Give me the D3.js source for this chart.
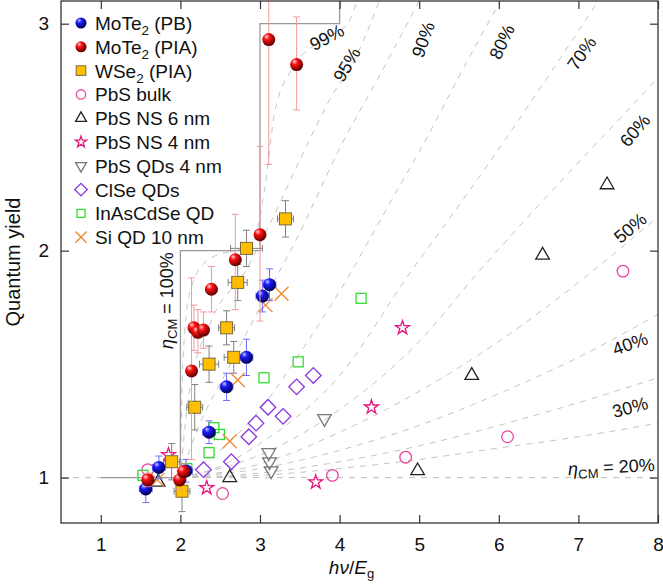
<!DOCTYPE html>
<html>
<head>
<meta charset="utf-8">
<script src="https://cdn.jsdelivr.net/npm/d3@7"></script>
<style>
body { margin: 0; background: #fff; }
text { font-family: "Liberation Sans", Arial, Helvetica, sans-serif; fill: #111; }
</style>
</head>
<body>
<script>
// data: [x, y, xerr, yerr] or [x, y, xerr, [ylo, yhi]]
var moTe2PB = [[1.565, 0.95, 0.08, 0.06], [1.73, 1.045, 0.08, 0.05], [2.07, 1.03, 0.08, 0.05], [2.36, 1.20, 0.08, 0.05],
    [2.58, 1.40, 0.08, 0.06], [2.83, 1.53, 0.08, 0.08], [3.03, 1.80, 0.08, 0.07], [3.12, 1.85, 0.08, 0.07]];
var moTe2PIA = [[1.59, 0.99, 0.05, [0.96, 1.02]], [1.99, 0.99, 0.05, [0.95, 1.03]], [2.04, 1.026, 0.05, [0.99, 1.06]],
    [2.14, 1.47, 0.05, [1.08, 1.88]], [2.17, 1.66, 0.05, [1.56, 1.76]], [2.22, 1.64, 0.05, [1.55, 1.74]], [2.29, 1.65, 0.05, [1.57, 1.73]],
    [2.39, 1.83, 0.05, [1.73, 1.93]], [2.69, 1.96, 0.05, [1.74, 2.16]], [3.0, 2.07, 0.05, [1.69, 2.46]],
    [3.11, 2.93, 0.05, [2.38, 3.2]], [3.46, 2.82, 0.05, [2.62, 3.03]]];
var wse2PIA = [[1.89, 1.07, 0.1, 0.08], [2.02, 0.94, 0.1, 0.09], [2.18, 1.31, 0.1, 0.1], [2.36, 1.50, 0.12, 0.08],
    [2.58, 1.66, 0.1, 0.075], [2.67, 1.53, 0.12, 0.07], [2.72, 1.86, 0.12, 0.08], [2.83, 2.01, 0.2, 0.08], [3.32, 2.14, 0.1, 0.08]];
var pbsBulk = [[1.59, 1.035], [2.53, 0.93], [3.91, 1.01], [4.83, 1.09], [6.11, 1.18], [7.56, 1.91]];
var pbsNS6 = [[1.72, 0.98], [2.62, 1.0], [4.98, 1.03], [5.66, 1.45], [6.55, 1.98], [7.36, 2.29]];
var pbsNS4 = [[1.85, 1.10], [2.33, 0.955], [3.70, 0.98], [4.40, 1.31], [4.79, 1.66]];
var pbsQD4 = [[3.11, 1.11], [3.12, 1.07], [3.14, 1.03], [3.81, 1.26]];
var clseQD = [[2.29, 1.035], [2.64, 1.07], [2.86, 1.18], [2.95, 1.24], [3.10, 1.31], [3.29, 1.27], [3.46, 1.40], [3.67, 1.45]];
var inasQD = [[1.53, 1.01], [2.08, 1.04], [2.36, 1.11], [2.42, 1.22], [2.49, 1.19], [3.05, 1.44], [3.48, 1.51], [4.27, 1.79]];
var siQD = [[1.71, 0.99], [2.62, 1.16], [2.72, 1.43], [3.07, 1.76], [3.27, 1.81]];

// eta_CM model curves
var etaValues = [20, 30, 40, 50, 60, 70, 80, 90, 95, 99];
var etaCurves = [
    [[2, 1], [3, 1.01], [4, 1.04], [5, 1.08], [6, 1.13], [7, 1.18], [8, 1.24]],
    [[2, 1], [3, 1.02], [4, 1.07], [5, 1.14], [6, 1.23], [7, 1.33], [8, 1.44]],
    [[2, 1], [3, 1.04], [4, 1.12], [5, 1.23], [6, 1.37], [7, 1.53], [8, 1.72]],
    [[2, 1], [3, 1.06], [4, 1.2], [5, 1.38], [6, 1.6], [7, 1.86], [8, 2.15]],
    [[2, 1], [3, 1.1], [4, 1.3], [5, 1.6], [5.73, 1.9], [6.5, 2.2], [7.3, 2.5], [8, 2.76]],
    [[2, 1], [2.5, 1.05], [3, 1.15], [4, 1.45], [4.88, 1.9], [5.5, 2.2], [6.2, 2.55], [6.7, 2.81], [7.25, 3.1]],
    [[2, 1], [2.5, 1.12], [3, 1.3], [3.6, 1.6], [4.1, 1.88], [4.6, 2.19], [5.1, 2.5], [5.55, 2.8], [6.02, 3.1]],
    [[2, 1], [2.2, 1.2], [2.6, 1.48], [3, 1.75], [3.5, 2.08], [4, 2.45], [4.5, 2.77], [5, 3.1]],
    [[2, 1], [2.1, 1.35], [2.4, 1.7], [2.8, 1.9], [3.1, 2.1], [3.5, 2.4], [3.9, 2.68], [4.2, 2.85], [4.5, 3.1]],
    [[2, 1], [2.03, 1.5], [2.12, 1.82], [2.35, 1.96], [2.9, 2.03], [3.07, 2.3], [3.18, 2.6], [3.4, 2.8], [3.8, 2.93], [4.1, 3.0], [4.22, 3.1]]
];
var staircase = [[1, 1], [2, 1], [2, 2], [3, 2], [3, 3], [4, 3], [4, 3.1]];

var xTicks = [1, 2, 3, 4, 5, 6, 7, 8];
var yTicks = [1, 2, 3];
var legendNames = ["MoTe2 (PB)", "MoTe2 (PIA)", "WSe2 (PIA)", "PbS bulk", "PbS NS 6 nm", "PbS NS 4 nm",
    "PbS QDs 4 nm", "ClSe QDs", "InAsCdSe QD", "Si QD 10 nm"];
var legendTypes = ["blue", "red", "sq", "circle", "tri", "star", "tridown", "diamond", "green", "cross"];

// label spots for the eta curves: [x, y, angle]
var labelPos = [[8.0, 1.03, -3], [7.65, 1.31, -15], [7.65, 1.59, -20], [7.65, 2.10, -40], [7.71, 2.53, -50],
    [7.04, 2.87, -55], [6.04, 2.92, -65], [5.05, 2.93, -70], [4.09, 2.82, -60], [3.84, 2.94, -28]];

var margin = { top: 1, right: 5, bottom: 63, left: 61 },
    width = 663,
    height = 586;

var x = d3.scaleLinear().domain([0.5, 8]).range([margin.left, width - margin.right]);
var y = d3.scaleLinear().domain([0.8, 3.1]).range([height - margin.bottom, margin.top]);

var svg = d3.select("body").append("svg")
    .attr("width", width)
    .attr("height", height);

var defs = svg.append("defs");
defs.append("clipPath").attr("id", "clip").append("rect")
    .attr("x", x(0.5)).attr("y", y(3.1))
    .attr("width", x(8) - x(0.5)).attr("height", y(0.8) - y(3.1));

// gradient for the spheres
function sphere(id, light, mid, dark) {
    var g = defs.append("radialGradient").attr("id", id)
        .attr("cx", "40%").attr("cy", "35%").attr("r", "65%")
        .attr("fx", "32%").attr("fy", "26%");
    g.append("stop").attr("offset", "0%").attr("stop-color", light);
    g.append("stop").attr("offset", "35%").attr("stop-color", mid);
    g.append("stop").attr("offset", "100%").attr("stop-color", dark);
}
sphere("gBlue", "#c8c8ff", "#1a1aff", "#00004a");
sphere("gRed", "#ffd8d8", "#ff1010", "#5a0000");

var plot = svg.append("g").attr("clip-path", "url(#clip)");

// model curves
var line = d3.line()
    .x(function (d) { return x(d[0]); })
    .y(function (d) { return y(d[1]); });

plot.append("path")
    .attr("d", line([[0.5, 1], [8, 1]]))
    .attr("fill", "none").attr("stroke", "#bdbdbd").attr("stroke-width", 1)
    .attr("stroke-dasharray", "6,6");

plot.selectAll(".eta")
    .data(etaCurves)
    .enter().append("path")
    .attr("class", "eta")
    .attr("d", function (d) { return line.curve(d3.curveMonotoneX)(d); })
    .attr("fill", "none")
    .attr("stroke", "#c4c4c4")
    .attr("stroke-width", 1)
    .attr("stroke-dasharray", "6,6");

line.curve(d3.curveLinear);
plot.append("path")
    .attr("d", line(staircase))
    .attr("fill", "none").attr("stroke", "#9a9a9a").attr("stroke-width", 1.3);

// error bars
function errorBars(data, color) {
    var g = plot.append("g").attr("stroke", color).attr("stroke-width", 1).attr("fill", "none");
    data.forEach(function (d) {
        var lo = Array.isArray(d[3]) ? d[3][0] : d[1] - d[3];
        var hi = Array.isArray(d[3]) ? d[3][1] : d[1] + d[3];
        var cx = x(d[0]), cy = y(d[1]);
        g.append("line").attr("x1", cx).attr("x2", cx).attr("y1", y(lo)).attr("y2", y(hi));
        g.append("line").attr("x1", cx - 3.5).attr("x2", cx + 3.5).attr("y1", y(lo)).attr("y2", y(lo));
        g.append("line").attr("x1", cx - 3.5).attr("x2", cx + 3.5).attr("y1", y(hi)).attr("y2", y(hi));
        g.append("line").attr("x1", x(d[0] - d[2])).attr("x2", x(d[0] + d[2])).attr("y1", cy).attr("y2", cy);
        g.append("line").attr("x1", x(d[0] - d[2])).attr("x2", x(d[0] - d[2])).attr("y1", cy - 3.5).attr("y2", cy + 3.5);
        g.append("line").attr("x1", x(d[0] + d[2])).attr("x2", x(d[0] + d[2])).attr("y1", cy - 3.5).attr("y2", cy + 3.5);
    });
}

// marker shapes
function marker(g, type, s) {
    s = s || 1;
    if (type === "blue" || type === "red") {
        g.append("circle").attr("r", 6.5 * s)
            .attr("fill", type === "blue" ? "url(#gBlue)" : "url(#gRed)");
    } else if (type === "sq") {
        g.append("rect").attr("x", -6 * s).attr("y", -6 * s).attr("width", 12 * s).attr("height", 12 * s)
            .attr("fill", "#ffbf00").attr("stroke", "#7a6a3a").attr("stroke-width", 1);
    } else if (type === "circle") {
        g.append("circle").attr("r", 5.8 * s).attr("fill", "none").attr("stroke", "#e8479b").attr("stroke-width", 1.3);
    } else if (type === "tri") {
        g.append("path").attr("d", d3.symbol().type(d3.symbolTriangle).size(80 * s * s)())
            .attr("fill", "none").attr("stroke", "#222").attr("stroke-width", 1.3);
    } else if (type === "tridown") {
        g.append("path").attr("d", d3.symbol().type(d3.symbolTriangle).size(80 * s * s)())
            .attr("transform", "rotate(180)")
            .attr("fill", "none").attr("stroke", "#777").attr("stroke-width", 1.3);
    } else if (type === "star") {
        g.append("path").attr("d", d3.symbol().type(d3.symbolStar).size(60 * s * s)())
            .attr("fill", "none").attr("stroke", "#e6157f").attr("stroke-width", 1.3);
    } else if (type === "diamond") {
        g.append("rect").attr("x", -5.5 * s).attr("y", -5.5 * s).attr("width", 11 * s).attr("height", 11 * s)
            .attr("transform", "rotate(45)")
            .attr("fill", "none").attr("stroke", "#8a35e0").attr("stroke-width", 1.3);
    } else if (type === "green") {
        g.append("rect").attr("x", -5 * s).attr("y", -5 * s).attr("width", 10 * s).attr("height", 10 * s)
            .attr("fill", "none").attr("stroke", "#33dd33").attr("stroke-width", 1.3);
    } else if (type === "cross") {
        var h = 7 * s;
        g.append("path").attr("d", "M" + -h + "," + -h + "L" + h + "," + h + "M" + -h + "," + h + "L" + h + "," + -h)
            .attr("stroke", "#f08a30").attr("stroke-width", 1.4);
    }
}

function points(data, type) {
    plot.append("g").selectAll("g")
        .data(data)
        .enter().append("g")
        .attr("transform", function (d) { return "translate(" + x(d[0]) + "," + y(d[1]) + ")"; })
        .each(function () { marker(d3.select(this), type); });
}

points(pbsBulk, "circle");
points(pbsNS6, "tri");
points(pbsNS4, "star");
points(pbsQD4, "tridown");
points(clseQD, "diamond");
points(inasQD, "green");
points(siQD, "cross");
errorBars(wse2PIA, "#808080");
points(wse2PIA, "sq");
errorBars(moTe2PB, "#6d6dff");
points(moTe2PB, "blue");
errorBars(moTe2PIA, "#f49a9a");
points(moTe2PIA, "red");

// eta labels
svg.selectAll(".etaLabel")
    .data(etaValues)
    .enter().append("text")
    .attr("class", "etaLabel")
    .attr("font-size", 18)
    .attr("text-anchor", function (d, i) { return i === 0 ? "end" : "middle"; })
    .attr("dy", function (d, i) { return i === 0 ? "0" : "0.35em"; })
    .attr("transform", function (d, i) {
        var p = labelPos[i];
        var px = i === 0 ? x(p[0]) - 3 : x(p[0]);
        return "translate(" + px + "," + y(p[1]) + ") rotate(" + p[2] + ")";
    })
    .each(function (d, i) {
        var t = d3.select(this);
        if (i === 0) {
            t.append("tspan").attr("font-style", "italic").text("η");
            t.append("tspan").attr("font-size", 13).attr("dy", 4).text("CM");
            t.append("tspan").attr("dy", -4).text(" = " + d + "%");
        } else {
            t.text(d + "%");
        }
    });

var lab100 = svg.append("text")
    .attr("font-size", 18)
    .attr("text-anchor", "middle")
    .attr("transform", "translate(" + (x(2) - 7) + "," + y(1.78) + ") rotate(-90)");
lab100.append("tspan").attr("font-style", "italic").text("η");
lab100.append("tspan").attr("font-size", 13).attr("dy", 4).text("CM");
lab100.append("tspan").attr("dy", -4).text(" = 100%");

// axes with inward ticks
var axisG = svg.append("g");
axisG.append("g")
    .attr("transform", "translate(0," + y(0.8) + ")")
    .call(d3.axisBottom(x).tickValues(xTicks).tickSizeInner(-8).tickSizeOuter(0).tickPadding(15).tickFormat(d3.format("d")));
axisG.append("g")
    .attr("transform", "translate(0," + y(3.1) + ")")
    .call(d3.axisTop(x).tickValues(xTicks).tickSizeInner(-8).tickSizeOuter(0).tickFormat(""));
axisG.append("g")
    .attr("transform", "translate(" + x(0.5) + ",0)")
    .call(d3.axisLeft(y).tickValues(yTicks).tickSizeInner(-8).tickSizeOuter(0).tickPadding(12).tickFormat(d3.format("d")));
axisG.append("g")
    .attr("transform", "translate(" + x(8) + ",0)")
    .call(d3.axisRight(y).tickValues(yTicks).tickSizeInner(-8).tickSizeOuter(0).tickFormat(""));
axisG.selectAll(".domain").remove();
axisG.selectAll(".tick line").attr("stroke", "#333").attr("stroke-width", 1.2);
axisG.selectAll(".tick text").attr("font-size", 19).attr("fill", "#111")
    .attr("font-family", "'Liberation Sans', Arial, sans-serif");

svg.append("rect")
    .attr("x", x(0.5)).attr("y", y(3.1))
    .attr("width", x(8) - x(0.5)).attr("height", y(0.8) - y(3.1))
    .attr("fill", "none").attr("stroke", "#333").attr("stroke-width", 1.3);

// axis titles
var xt = svg.append("text")
    .attr("x", (x(0.5) + x(8)) / 2 - 8).attr("y", 574)
    .attr("text-anchor", "middle").attr("font-size", 19);
xt.append("tspan").attr("font-style", "italic").text("hν");
xt.append("tspan").text("/");
xt.append("tspan").attr("font-style", "italic").text("E");
xt.append("tspan").attr("font-size", 13).attr("dy", 4).text("g");

svg.append("text")
    .attr("transform", "translate(20," + (y(0.8) + y(3.1)) / 2 + ") rotate(-90)")
    .attr("text-anchor", "middle").attr("font-size", 20)
    .text("Quantum yield");

// legend
var legend = svg.append("g").attr("transform", "translate(81,23)");
var item = legend.selectAll(".item")
    .data(legendNames)
    .enter().append("g")
    .attr("class", "item")
    .attr("transform", function (d, i) { return "translate(0," + i * 23.8 + ")"; });
item.each(function (d, i) {
    var s = (legendTypes[i] === "blue" || legendTypes[i] === "red") ? 0.85 : 0.8;
    marker(d3.select(this), legendTypes[i], s);
});
item.append("text")
    .attr("x", 14).attr("y", 7).attr("font-size", 19)
    .each(function (d) {
        var t = d3.select(this);
        var m = d.match(/^(MoTe|WSe)2(.*)$/);
        if (m) {
            t.append("tspan").text(m[1]);
            t.append("tspan").attr("font-size", 13.5).attr("dy", 5).text("2");
            t.append("tspan").attr("dy", -5).text(m[2]);
        } else {
            t.text(d);
        }
    });
</script>
</body>
</html>
